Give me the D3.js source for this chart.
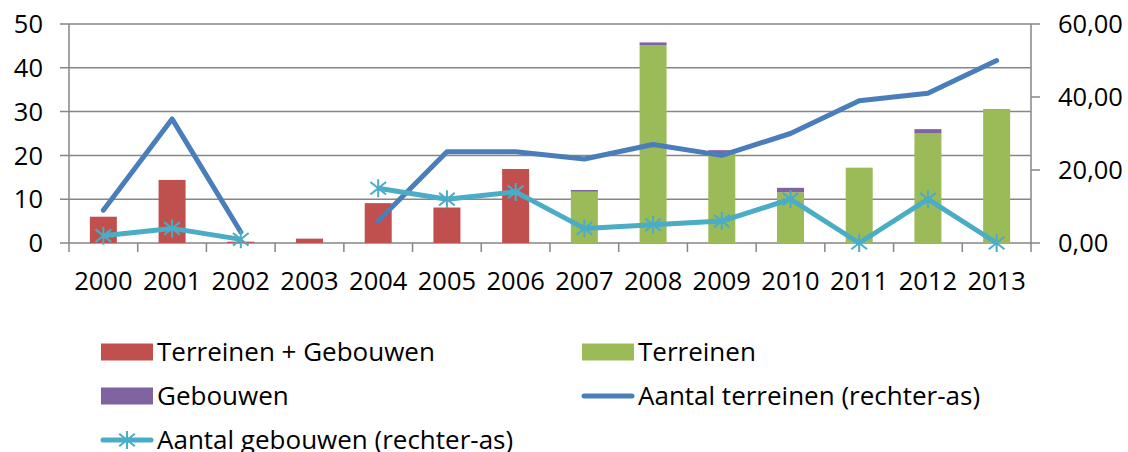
<!DOCTYPE html>
<html>
<head>
<meta charset="utf-8">
<script src="https://cdn.jsdelivr.net/npm/d3@7"></script>
<style>
  body { margin: 0; background: #fff; }
  text { font-family: "Open Sans", Lato, sans-serif; fill: #000; }
</style>
</head>
<body>
<script>
const width = 1128;
const height = 452;

// data
const years = ["2000", "2001", "2002", "2003", "2004", "2005", "2006", "2007", "2008", "2009", "2010", "2011", "2012", "2013"];
const terreinenGebouwen = [6, 14.4, 0.3, 1, 9.1, 8.1, 16.9, 0, 0, 0, 0, 0, 0, 0];
const terreinen = [0, 0, 0, 0, 0, 0, 0, 11.7, 45.2, 20.5, 11.6, 17.2, 25, 30.6];
const gebouwen = [0, 0, 0, 0, 0, 0, 0, 0.4, 0.6, 0.7, 1.0, 0, 1.0, 0];
const aantalTerreinen = [9, 34, 3, null, 6, 25, 25, 23, 27, 24, 30, 39, 41, 50];
const aantalGebouwen = [2, 4, 1, null, 15, 12, 14, 4, 5, 6, 12, 0, 12, 0];
const leftTicks = [0, 10, 20, 30, 40, 50];
const rightTicks = [0, 20, 40, 60];

const color = {
    tg: "#c0504d",
    terr: "#9bbb59",
    geb: "#8064a2",
    lineT: "#4a7ebb",
    lineG: "#4bacc6",
    grid: "#868686"
}
const axisFont = 25.5;
const legendFont = 26;

const margin = {left: 69, right: 97, top: 24, bottom: 209};

let svg = d3.select("body").append("svg")
    .attr("width", width)
    .attr("height", height)

let xBound = d3.scaleBand()
    .domain(years)
    .range([margin.left, width - margin.right])

let yL = d3.scaleLinear().domain([0, 50]).range([height - margin.bottom, margin.top]);
let yR = d3.scaleLinear().domain([0, 60]).range([height - margin.bottom, margin.top]);

// gridlines
svg.append("g")
    .selectAll("line")
    .data(leftTicks)
    .enter()
    .append("line")
    .attr("x1", margin.left - 9)
    .attr("x2", width - margin.right)
    .attr("y1", d => yL(d))
    .attr("y2", d => yL(d))
    .attr("stroke", color.grid)
    .attr("stroke-width", 1.5)

// left axis labels
svg.append("g")
    .selectAll("text")
    .data(leftTicks)
    .enter()
    .append("text")
    .attr("x", 43)
    .attr("y", d => yL(d))
    .attr("dy", "0.36em")
    .attr("text-anchor", "end")
    .attr("font-size", axisFont)
    .text(d => d)

// right axis ticks and labels
let rG = svg.append("g")
rG.selectAll("line")
    .data(rightTicks)
    .enter()
    .append("line")
    .attr("x1", width - margin.right)
    .attr("x2", width - margin.right + 9)
    .attr("y1", d => yR(d))
    .attr("y2", d => yR(d))
    .attr("stroke", color.grid)
    .attr("stroke-width", 1.5)
rG.selectAll("text")
    .data(rightTicks)
    .enter()
    .append("text")
    .attr("x", 1058)
    .attr("y", d => yR(d))
    .attr("dy", "0.36em")
    .attr("font-size", axisFont)
    .text(d => d3.format(".2f")(d).replace(".", ","))

// axis lines
svg.append("line")
    .attr("x1", margin.left).attr("x2", margin.left)
    .attr("y1", margin.top).attr("y2", yL(0) + 9)
    .attr("stroke", color.grid).attr("stroke-width", 1.5)
svg.append("line")
    .attr("x1", width - margin.right).attr("x2", width - margin.right)
    .attr("y1", margin.top).attr("y2", yL(0) + 9)
    .attr("stroke", color.grid).attr("stroke-width", 1.5)

// category ticks
svg.append("g")
    .selectAll("line")
    .data(years.slice(1))
    .enter()
    .append("line")
    .attr("x1", d => xBound(d))
    .attr("x2", d => xBound(d))
    .attr("y1", yL(0))
    .attr("y2", yL(0) + 9)
    .attr("stroke", color.grid)
    .attr("stroke-width", 1.5)

svg.append("g")
    .selectAll("text")
    .data(years)
    .enter()
    .append("text")
    .attr("x", d => xBound(d) + xBound.bandwidth() / 2)
    .attr("y", 290)
    .attr("text-anchor", "middle")
    .attr("font-size", axisFont)
    .text(d => d)

// stacked bars
let stackData = years.map((y, i) => ({year: y, tg: terreinenGebouwen[i], terr: terreinen[i], geb: gebouwen[i]}))
let series = d3.stack().keys(["tg", "terr", "geb"])(stackData)

svg.append("g")
    .selectAll("g")
    .data(series)
    .enter()
    .append("g")
    .attr("fill", d => color[d.key])
    .selectAll("rect")
    .data(d => d)
    .enter()
    .append("rect")
    .attr("x", d => xBound(d.data.year) + xBound.bandwidth() / 2 - 13.5)
    .attr("width", 27)
    .attr("y", d => yL(d[1]))
    .attr("height", d => yL(d[0]) - yL(d[1]))

// lines
let cx = (d, i) => xBound(years[i]) + xBound.bandwidth() / 2;
let line = d3.line()
    .defined(d => d !== null)
    .x(cx)
    .y(d => yR(d))

svg.append("path")
    .attr("d", line(aantalTerreinen))
    .attr("fill", "none")
    .attr("stroke", color.lineT)
    .attr("stroke-width", 5)
    .attr("stroke-linecap", "round")
    .attr("stroke-linejoin", "round")

svg.append("path")
    .attr("d", line(aantalGebouwen))
    .attr("fill", "none")
    .attr("stroke", color.lineG)
    .attr("stroke-width", 5)
    .attr("stroke-linejoin", "round")

// star markers
function star(g, px, py, r) {
    g.append("path")
        .attr("d", "M" + px + "," + (py - r) + "V" + (py + r) +
            "M" + (px - r * 0.87) + "," + (py - r * 0.7) + "L" + (px + r * 0.87) + "," + (py + r * 0.7) +
            "M" + (px - r * 0.87) + "," + (py + r * 0.7) + "L" + (px + r * 0.87) + "," + (py - r * 0.7))
        .attr("stroke", color.lineG)
        .attr("stroke-width", 2)
        .attr("fill", "none")
}
let markG = svg.append("g")
aantalGebouwen.forEach((d, i) => {
    if (d !== null) star(markG, cx(d, i), yR(d), 9)
})

// legend
let legend = svg.append("g")
let legItems = [
    {name: "Terreinen + Gebouwen", type: "rect", c: color.tg, x: 101, y: 352},
    {name: "Terreinen", type: "rect", c: color.terr, x: 582, y: 352},
    {name: "Gebouwen", type: "rect", c: color.geb, x: 101, y: 396},
    {name: "Aantal terreinen (rechter-as)", type: "line", c: color.lineT, x: 582, y: 396},
    {name: "Aantal gebouwen (rechter-as)", type: "star", c: color.lineG, x: 101, y: 440}
]
legItems.forEach(it => {
    if (it.type === "rect") {
        legend.append("rect")
            .attr("x", it.x).attr("y", it.y - 8.5)
            .attr("width", 52).attr("height", 17)
            .attr("fill", it.c)
    } else {
        legend.append("line")
            .attr("x1", it.x + 2).attr("x2", it.x + 50)
            .attr("y1", it.y).attr("y2", it.y)
            .attr("stroke", it.c).attr("stroke-width", 5)
            .attr("stroke-linecap", "round")
        if (it.type === "star") star(legend, it.x + 26, it.y, 9)
    }
    legend.append("text")
        .attr("x", it.x + 56)
        .attr("y", it.y)
        .attr("dy", "0.36em")
        .attr("font-size", legendFont)
        .text(it.name)
})
</script>
</body>
</html>
